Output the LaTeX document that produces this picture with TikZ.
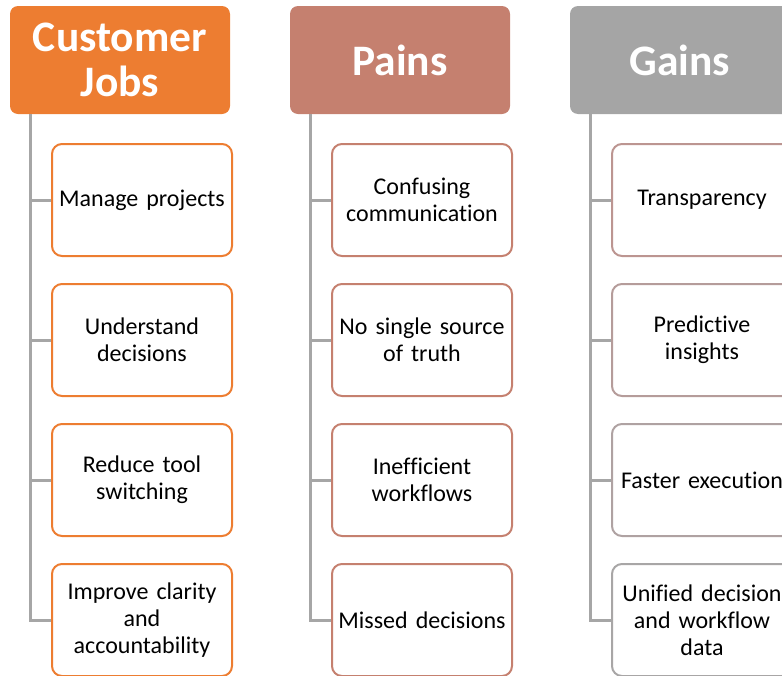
\documentclass[tikz,border=0pt]{standalone}
\usepackage{fontspec}
\setmainfont{Carlito}[Ligatures=NoCommon]
\definecolor{jobs}{HTML}{ED7D31}
\definecolor{pains}{HTML}{C5806F}
\definecolor{gains}{HTML}{A5A5A5}
\definecolor{gainA}{HTML}{BC9591}
\definecolor{gainB}{HTML}{B59C9A}
\definecolor{gainC}{HTML}{AFA2A2}
\definecolor{gainD}{HTML}{A8A6A6}
\definecolor{linkgray}{HTML}{A6A6A6}
\tikzset{
  header/.style={draw=none, fill=#1, rounded corners=8pt, minimum width=220pt,
    minimum height=108pt, inner sep=0pt, text=white, align=center,
    font=\fontsize{43.5}{45}\selectfont\bfseries},
  item/.style={draw=#1, line width=2pt, fill=white, rounded corners=10pt,
    minimum width=180pt, minimum height=112pt, inner sep=0pt, align=center,
    text width=178pt, font=\fontsize{24}{27}\selectfont},
  link/.style={draw=linkgray, line width=3pt}
}
\begin{document}
\begin{tikzpicture}[x=1pt, y=-1pt]
  \useasboundingbox (0,0) rectangle (782,675);
  \clip (0,0) rectangle (782,675);

  % column headers
  \node[header=jobs]  (h1) at (120,60) {Customer\\Jobs};
  \node[header=pains] (h2) at (400,60) {Pains};
  \node[header=gains] (h3) at (680,60) {Gains};

  % customer jobs
  \node[item=jobs] (c11) at (142,200) {Manage projects};
  \node[item=jobs] (c12) at (142,340) {Understand\\decisions};
  \node[item=jobs] (c13) at (142,480) {Reduce tool\\switching};
  \node[item=jobs] (c14) at (142,620) {Improve clarity\\and\\accountability};

  % pains
  \node[item=pains] (c21) at (422,200) {Confusing\\communication};
  \node[item=pains] (c22) at (422,340) {No single source\\of truth};
  \node[item=pains] (c23) at (422,480) {Inefficient\\workflows};
  \node[item=pains] (c24) at (422,620) {Missed decisions};

  % gains
  \node[item=gainA] (c31) at (702,200) {Transparency};
  \node[item=gainB] (c32) at (702,340) {Predictive\\insights};
  \node[item=gainC] (c33) at (702,480) {Faster execution};
  \node[item=gainD] (c34) at (702,620) {Unified decision\\and workflow\\data};

  % tree connectors
  \foreach \c in {1,2,3} {
    \coordinate (t\c) at ([xshift=21pt]h\c.south west);
    \draw[link] (t\c) |- (c\c4.west);
    \foreach \r in {1,2,3}
      \draw[link] (c\c\r.west) -- (c\c\r.west -| t\c);
  }
\end{tikzpicture}
\end{document}
